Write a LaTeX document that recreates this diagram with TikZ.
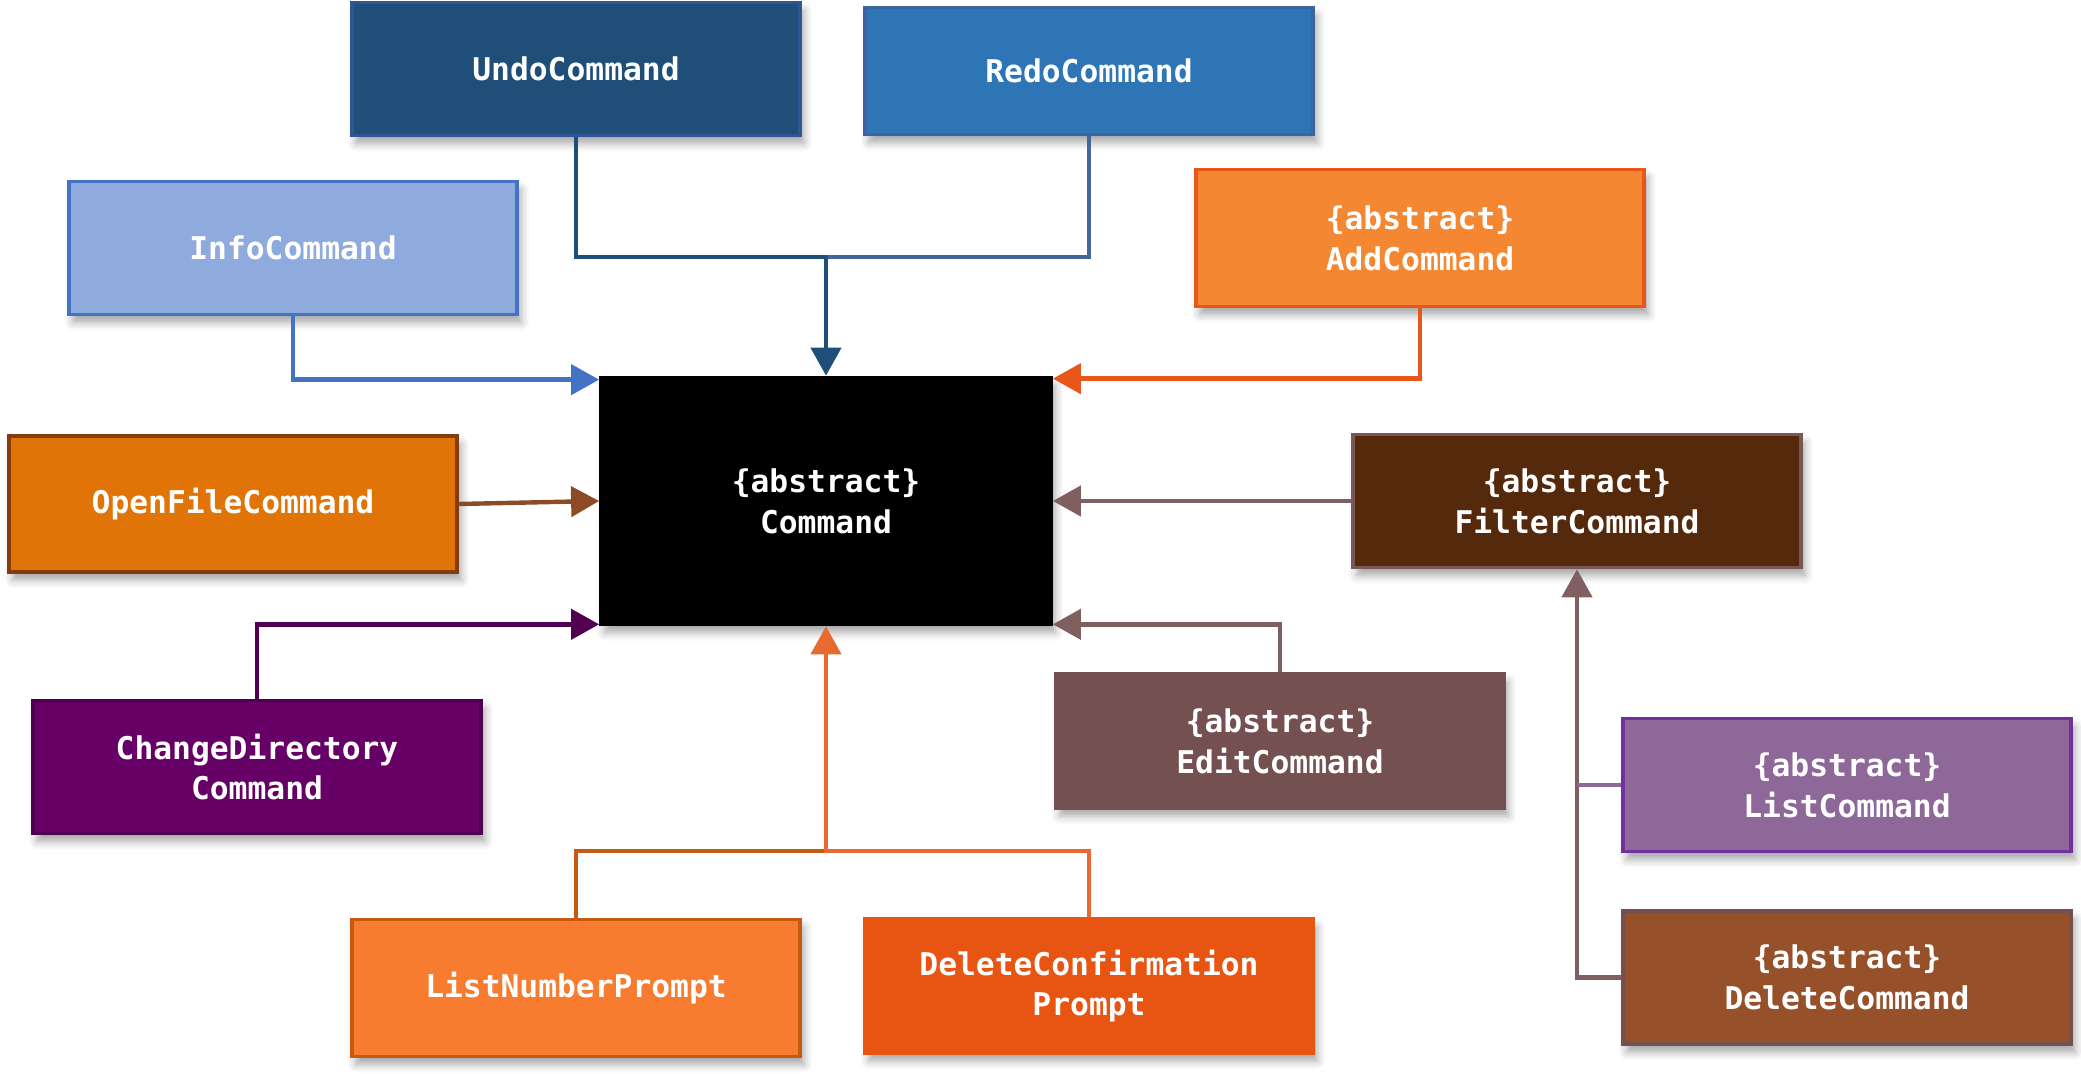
\documentclass[tikz,border=0pt]{standalone}
\usepackage{fontspec}
\newfontfamily\codefont{DejaVu Sans Mono}
\usepackage{xcolor}
\definecolor{undofill}{HTML}{1F4E79}
\definecolor{undoline}{HTML}{2F5597}
\definecolor{redofill}{HTML}{2E75B6}
\definecolor{redoline}{HTML}{3B64A0}
\definecolor{redoarr}{HTML}{44679A}
\definecolor{infofill}{HTML}{8FAADC}
\definecolor{infoline}{HTML}{4472C4}
\definecolor{addfill}{HTML}{F58632}
\definecolor{addline}{HTML}{E8561A}
\definecolor{openfill}{HTML}{E07406}
\definecolor{openline}{HTML}{843C0C}
\definecolor{openarr}{HTML}{8B4B24}
\definecolor{filterfill}{HTML}{55290B}
\definecolor{filterline}{HTML}{7A5757}
\definecolor{brownarr}{HTML}{7F5F5F}
\definecolor{chdirfill}{HTML}{660066}
\definecolor{chdirline}{HTML}{4D004D}
\definecolor{chdirarr}{HTML}{50004F}
\definecolor{editfill}{HTML}{745050}
\definecolor{listfill}{HTML}{8E6898}
\definecolor{listline}{HTML}{7030A0}
\definecolor{delfill}{HTML}{97512A}
\definecolor{lnpfill}{HTML}{F77C30}
\definecolor{lnpline}{HTML}{C55A11}
\definecolor{dcpfill}{HTML}{E85412}
\definecolor{dcparr}{HTML}{E96A2E}
\usepackage{tikz}
\usetikzlibrary{positioning,calc,arrows.meta,shadows.blur}

\begin{document}
\begin{tikzpicture}[
        x=0.01cm, y=-0.01cm,
        cls/.style={draw, line width=1pt, minimum width=4.48cm, minimum height=1.33cm, align=center, text=white,
            font=\codefont\bfseries\fontsize{8.9pt}{11.6pt}\selectfont,
            blur shadow={shadow xshift=0.04cm, shadow yshift=-0.08cm, shadow blur radius=0.08cm, shadow opacity=35}},
        arr/.style={-{Triangle[length=2.8mm, width=3mm]}, line width=1.25pt},
        link/.style={line width=1.25pt},
    ]
    \useasboundingbox (0,0) rectangle (2081,1074);

    % === Centre: abstract Command ===
    \node[cls, fill=black, draw=black, minimum width=4.5cm, minimum height=2.47cm] (command) at (826,501) {\{abstract\}\\Command};

    % === Top row ===
    \node[cls, fill=undofill, draw=undoline] (undo) at (576,69) {UndoCommand};
    \node[cls, fill=redofill, draw=redoline, minimum height=1.27cm] (redo) at (1089,71) {RedoCommand};
    \node[cls, fill=infofill, draw=infoline] (info) at (293,248) {InfoCommand};
    \node[cls, fill=addfill, draw=addline, minimum height=1.37cm] (add) at (1420,238) {\{abstract\}\\AddCommand};

    % === Middle row ===
    \node[cls, fill=openfill, draw=openline, minimum height=1.36cm] (openfile) at (233,504) {OpenFileCommand};
    \node[cls, fill=filterfill, draw=filterline] (filter) at (1577,501) {\{abstract\}\\FilterCommand};
    \node[cls, fill=chdirfill, draw=chdirline] (chdir) at (257,767) {ChangeDirectory\\Command};
    \node[cls, fill=editfill, draw=editfill, minimum height=1.34cm] (edit) at (1280,741) {\{abstract\}\\EditCommand};

    % === Bottom row ===
    \node[cls, fill=listfill, draw=listline] (list) at (1847,785) {\{abstract\}\\ListCommand};
    \node[cls, fill=delfill, draw=editfill, below=0.56cm of list] (delete) {\{abstract\}\\DeleteCommand};
    \node[cls, fill=lnpfill, draw=lnpline, minimum height=1.37cm] (lnp) at (576,988) {ListNumberPrompt};
    \node[cls, fill=dcpfill, draw=dcpfill, minimum height=1.34cm] (dcp) at (1089,986) {DeleteConfirmation\\Prompt};

    % === Junctions ===
    \coordinate (jtop) at (command.north |- 0,257);
    \coordinate (jbot) at (command.south |- 0,851);

    % === Connectors ===
    \draw[link, redoarr] (redo.south) |- (jtop);
    \draw[arr, undofill] (undo.south) |- (jtop) -- (command.north);
    \draw[arr, infoline] (info.south) |- ([yshift=-0.04cm]command.north west);
    \draw[arr, addline] (add.south) |- ([yshift=-0.03cm]command.north east);
    \draw[arr, openarr] (openfile.east) -- (command.west);
    \draw[arr, chdirarr] (chdir.north) |- ([yshift=0.02cm]command.south west);
    \draw[arr, brownarr] (filter.west) -- (command.east);
    \draw[arr, brownarr] (edit.north) |- ([yshift=0.02cm]command.south east);
    \draw[link, lnpline] (lnp.north) |- (jbot);
    \draw[arr, dcparr] (dcp.north) |- (jbot) -- (command.south);
    \draw[arr, brownarr] (delete.west) -| (filter.south);
    \draw[link, listfill] (list.west) -- (list.west -| filter.south);

\end{tikzpicture}
\end{document}
